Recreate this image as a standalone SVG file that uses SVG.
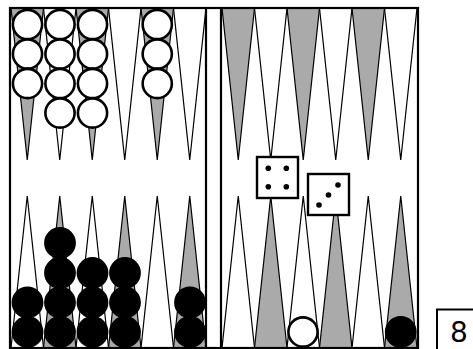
<svg xmlns="http://www.w3.org/2000/svg" width="473" height="349" viewBox="0 0 473 349">
<style>
.pw{fill:#fff;stroke:#000;stroke-width:1.2}
.pg{fill:#aaa;stroke:#000;stroke-width:1.2}
.cw{fill:#fff;stroke:#000;stroke-width:2.6}
.cb{fill:#000;stroke:#000;stroke-width:2.6}
.frame{fill:none;stroke:#000;stroke-width:2.2}
.die{fill:#fff;stroke:#000;stroke-width:2.4}
.pip{fill:#000}
</style>
<rect x="0" y="0" width="473" height="349" fill="#fff"/>
<g id="points-left-top">
<polygon class="pg" points="11,8 43.5,8 27.25,160"/>
<polygon class="pw" points="43.5,8 76,8 59.75,160"/>
<polygon class="pg" points="76,8 108.5,8 92.25,160"/>
<polygon class="pw" points="108.5,8 141,8 124.75,160"/>
<polygon class="pg" points="141,8 173.5,8 157.25,160"/>
<polygon class="pw" points="173.5,8 206,8 189.75,160"/>
</g>
<g id="points-left-bottom">
<polygon class="pw" points="11,348 43.5,348 27.25,196"/>
<polygon class="pg" points="43.5,348 76,348 59.75,196"/>
<polygon class="pw" points="76,348 108.5,348 92.25,196"/>
<polygon class="pg" points="108.5,348 141,348 124.75,196"/>
<polygon class="pw" points="141,348 173.5,348 157.25,196"/>
<polygon class="pg" points="173.5,348 206,348 189.75,196"/>
</g>
<g id="points-right-top">
<polygon class="pg" points="222,8 254.5,8 238.25,160"/>
<polygon class="pw" points="254.5,8 287,8 270.75,160"/>
<polygon class="pg" points="287,8 319.5,8 303.25,160"/>
<polygon class="pw" points="319.5,8 352,8 335.75,160"/>
<polygon class="pg" points="352,8 384.5,8 368.25,160"/>
<polygon class="pw" points="384.5,8 417,8 400.75,160"/>
</g>
<g id="points-right-bottom">
<polygon class="pw" points="222,348 254.5,348 238.25,196"/>
<polygon class="pg" points="254.5,348 287,348 270.75,196"/>
<polygon class="pw" points="287,348 319.5,348 303.25,196"/>
<polygon class="pg" points="319.5,348 352,348 335.75,196"/>
<polygon class="pw" points="352,348 384.5,348 368.25,196"/>
<polygon class="pg" points="384.5,348 417,348 400.75,196"/>
</g>
<g id="frame">
<rect class="frame" x="10" y="8" width="408" height="340"/>
<line class="frame" x1="206" y1="8" x2="206" y2="348"/>
<line class="frame" x1="221" y1="8" x2="221" y2="348"/>
</g>
<g id="white-checkers">
<circle class="cw" cx="27.5" cy="24.5" r="14.6"/>
<circle class="cw" cx="27.5" cy="54" r="14.6"/>
<circle class="cw" cx="27.5" cy="83.5" r="14.6"/>
<circle class="cw" cx="60" cy="24.5" r="14.6"/>
<circle class="cw" cx="60" cy="54" r="14.6"/>
<circle class="cw" cx="60" cy="83.5" r="14.6"/>
<circle class="cw" cx="60" cy="113" r="14.6"/>
<circle class="cw" cx="92.5" cy="24.5" r="14.6"/>
<circle class="cw" cx="92.5" cy="54" r="14.6"/>
<circle class="cw" cx="92.5" cy="83.5" r="14.6"/>
<circle class="cw" cx="92.5" cy="113" r="14.6"/>
<circle class="cw" cx="157.25" cy="24.5" r="14.6"/>
<circle class="cw" cx="157.25" cy="54" r="14.6"/>
<circle class="cw" cx="157.25" cy="83.5" r="14.6"/>
<circle class="cw" cx="303" cy="332" r="14.6"/>
</g>
<g id="black-checkers">
<circle class="cb" cx="27.5" cy="332" r="14.6"/>
<circle class="cb" cx="27.5" cy="302.5" r="14.6"/>
<circle class="cb" cx="60" cy="332" r="14.6"/>
<circle class="cb" cx="60" cy="302.5" r="14.6"/>
<circle class="cb" cx="60" cy="273" r="14.6"/>
<circle class="cb" cx="60" cy="243" r="14.6"/>
<circle class="cb" cx="92.5" cy="332" r="14.6"/>
<circle class="cb" cx="92.5" cy="302.5" r="14.6"/>
<circle class="cb" cx="92.5" cy="273" r="14.6"/>
<circle class="cb" cx="125" cy="332" r="14.6"/>
<circle class="cb" cx="125" cy="302.5" r="14.6"/>
<circle class="cb" cx="125" cy="273" r="14.6"/>
<circle class="cb" cx="190" cy="332" r="14.6"/>
<circle class="cb" cx="190" cy="302.5" r="14.6"/>
<circle class="cb" cx="400.75" cy="332" r="14.6"/>
</g>
<g id="die-four">
<rect class="die" x="257" y="157" width="41" height="41"/>
<circle class="pip" cx="268.3" cy="168.3" r="2.8"/>
<circle class="pip" cx="286.3" cy="168.3" r="2.8"/>
<circle class="pip" cx="268.3" cy="186.7" r="2.8"/>
<circle class="pip" cx="286.3" cy="186.7" r="2.8"/>
</g>
<g id="die-three">
<rect class="die" x="308" y="174" width="41" height="41"/>
<circle class="pip" cx="319" cy="205" r="2.8"/>
<circle class="pip" cx="328.5" cy="195" r="2.8"/>
<circle class="pip" cx="338" cy="185" r="2.8"/>
</g>
<g id="cube">
<rect x="437" y="309.5" width="40" height="44" fill="#fff" stroke="#000" stroke-width="2"/>
<text x="459" y="341.5" font-family="DejaVu Sans, sans-serif" font-size="28" text-anchor="middle">8</text>
</g>
</svg>
